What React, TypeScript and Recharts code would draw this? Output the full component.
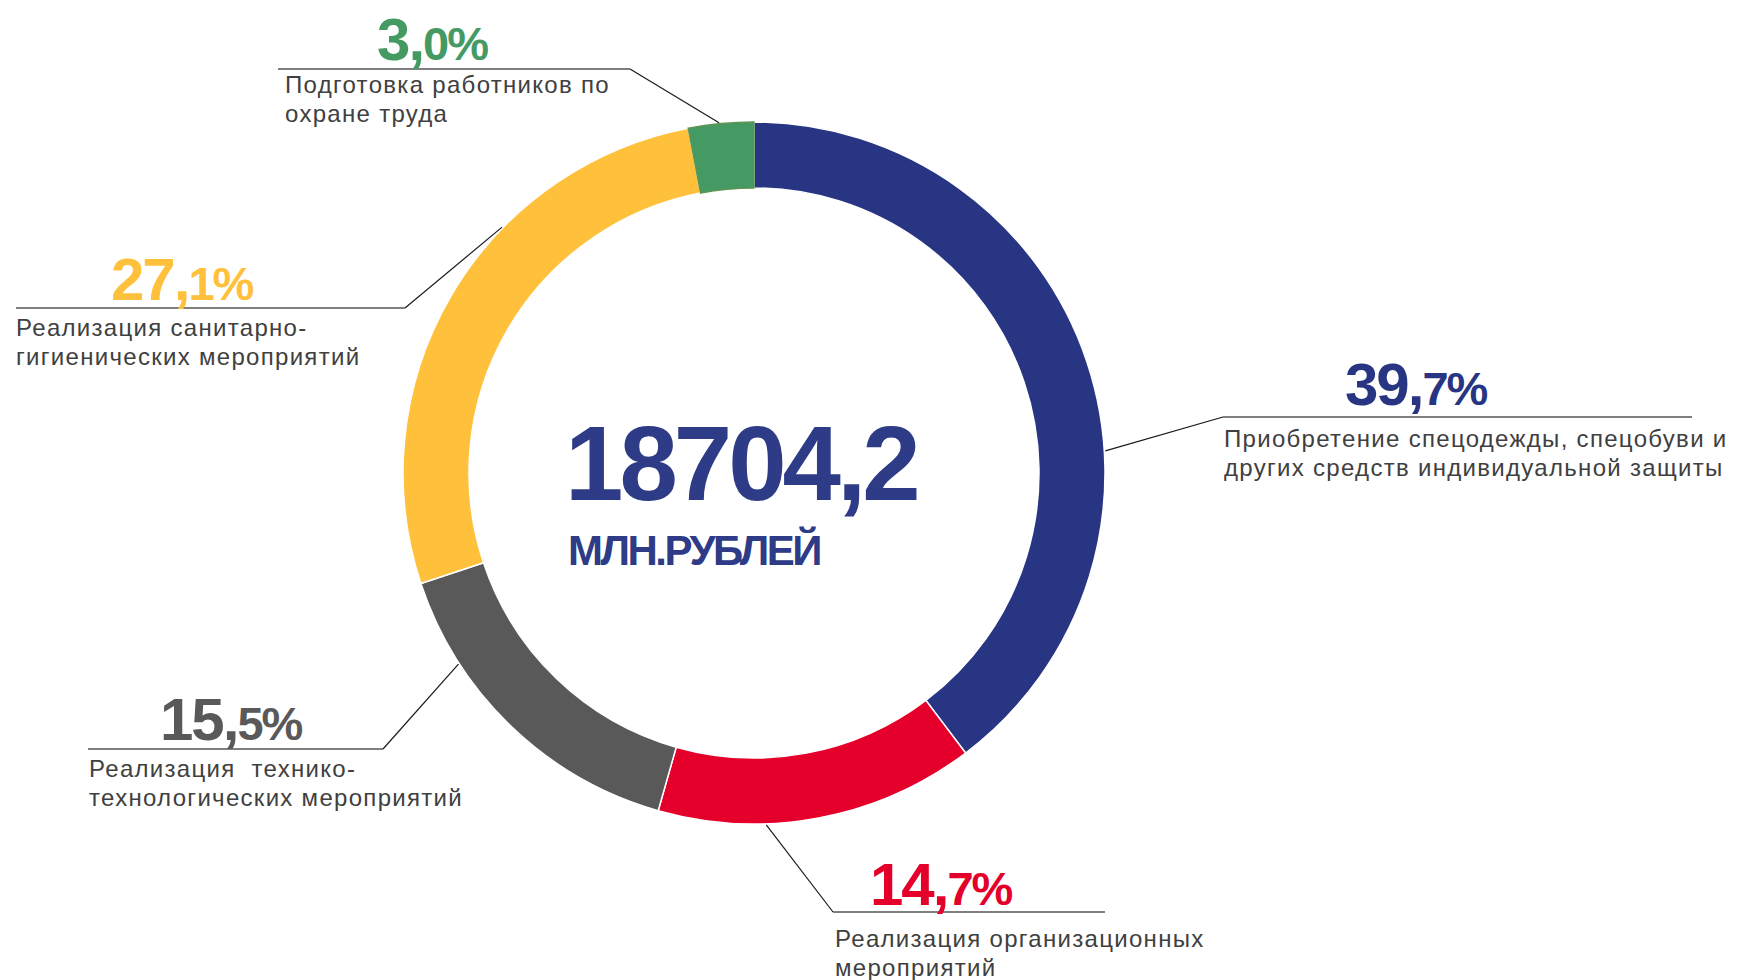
import { Cell, Pie, PieChart } from "recharts";

// Структура затрат на охрану труда, % от общей суммы
const categories = [
  "Приобретение спецодежды, спецобуви и других средств индивидуальной защиты",
  "Реализация организационных мероприятий",
  "Реализация технико-технологических мероприятий",
  "Реализация санитарно-гигиенических мероприятий",
  "Подготовка работников по охране труда",
];
const shares = [39.7, 14.7, 15.5, 27.1, 3.0];
const labelLines = [
  ["Приобретение спецодежды, спецобуви и", "других средств индивидуальной защиты"],
  ["Реализация организационных", "мероприятий"],
  ["Реализация  технико-", "технологических мероприятий"],
  ["Реализация санитарно-", "гигиенических мероприятий"],
  ["Подготовка работников по", "охране труда"],
];
const TOTAL = "18704,2";
const UNIT = "МЛН.РУБЛЕЙ";

const COLORS = ["#283583", "#E4002B", "#595959", "#FFC13B", "#459A63"];
const STROKES = ["#FFFFFF", "#FFFFFF", "#FFFFFF", "#FFFFFF", "#5E9455"];
const TEXT = "#404040";
const FONT = "'Liberation Sans', Arial, sans-serif";

const W = 1739;
const H = 980;

// где стоят подписи: угол выноски на кольце (по часовой от 12 ч), излом, конец полки, текст
const LAYOUT = [
  { deg: 86.4, elbow: [1223, 417], end: 1692, pct: [1345, 405], desc: [1224, 447] },
  { deg: 178, elbow: [833, 912], end: 1105, pct: [870, 905], desc: [835, 947] },
  { deg: 237.1, elbow: [383, 749], end: 88, pct: [160, 740], desc: [89, 777] },
  { deg: 314.3, elbow: [405, 308], end: 16, pct: [111, 300], desc: [16, 336] },
  { deg: 354.3, elbow: [630, 69], end: 278, pct: [377, 60], desc: [285, 93] },
];

const data = categories.map((name, i) => ({ name, value: shares[i] }));

function SliceLabel(props: any) {
  const { index, cx, cy, outerRadius } = props;
  const l = LAYOUT[index];
  const rad = (l.deg * Math.PI) / 180;
  const sx = cx + Math.sin(rad) * (outerRadius + 1);
  const sy = cy - Math.cos(rad) * (outerRadius + 1);
  const [whole, frac] = shares[index].toFixed(1).split(".");
  return (
    <g>
      <line x1={sx} y1={sy} x2={l.elbow[0]} y2={l.elbow[1]} stroke="#1a1a1a" strokeWidth={1.2} />
      <line x1={l.elbow[0]} y1={l.elbow[1]} x2={l.end} y2={l.elbow[1]} stroke="#555" strokeWidth={1.5} />
      <text
        x={l.pct[0]}
        y={l.pct[1]}
        fill={COLORS[index]}
        fontFamily={FONT}
        fontWeight="bold"
        letterSpacing={-2}
      >
        <tspan fontSize={60}>{whole},</tspan>
        <tspan fontSize={47}>{frac}%</tspan>
      </text>
      <text
        x={l.desc[0]}
        y={l.desc[1]}
        fill={TEXT}
        fontFamily={FONT}
        fontSize={24}
        letterSpacing={1.3}
      >
        {labelLines[index].map((line, k) => (
          <tspan key={k} x={l.desc[0]} dy={k === 0 ? 0 : 29} style={{ whiteSpace: "pre" }}>
            {line}
          </tspan>
        ))}
      </text>
    </g>
  );
}

export default function App() {
  return (
    <div style={{ position: "absolute", left: 0, top: 0, width: W, height: H, background: "#fff" }}>
      <PieChart width={W} height={H} margin={{ top: 0, right: 0, bottom: 0, left: 0 }}>
        <Pie
          data={data}
          dataKey="value"
          nameKey="name"
          cx={754}
          cy={473}
          innerRadius={285}
          outerRadius={351}
          startAngle={90}
          endAngle={-270}
          label={SliceLabel}
          labelLine={false}
          isAnimationActive={false}
        >
          {data.map((d, i) => (
            <Cell key={d.name} fill={COLORS[i]} stroke={STROKES[i]} strokeWidth={1.5} />
          ))}
        </Pie>
        <text
          x={565}
          y={500}
          fill="#2E3B86"
          fontFamily={FONT}
          fontWeight="bold"
          fontSize={105}
          letterSpacing={-4}
        >
          {TOTAL}
        </text>
        <text
          x={568}
          y={565}
          fill="#2E3B86"
          fontFamily={FONT}
          fontWeight="bold"
          fontSize={42}
          letterSpacing={-2.5}
        >
          {UNIT}
        </text>
      </PieChart>
    </div>
  );
}
